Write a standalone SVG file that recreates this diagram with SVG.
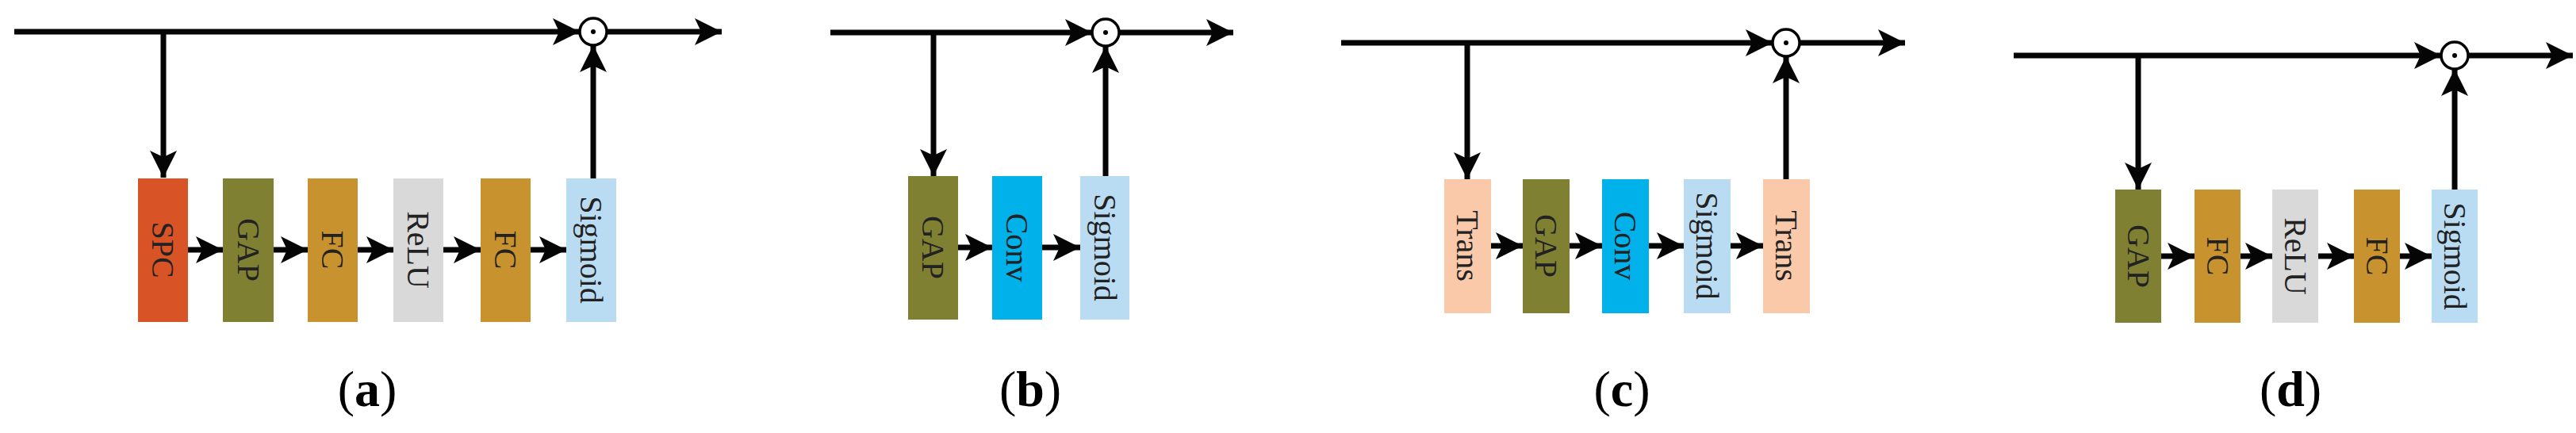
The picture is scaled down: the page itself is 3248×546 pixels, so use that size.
<svg xmlns="http://www.w3.org/2000/svg" width="3248" height="546" viewBox="0 0 3248 546">
<style>
.ln{stroke:#050505;stroke-width:7;fill:none;marker-end:url(#ah)}
.t{font-family:"Liberation Serif",serif;font-size:40px;fill:#222;text-anchor:middle;dominant-baseline:central}
.cap{font-family:"Liberation Serif",serif;font-size:64px;fill:#000;text-anchor:middle}
.od{fill:#fff;stroke:#000;stroke-width:3.5}
</style>
<defs>
<marker id="ah" markerUnits="userSpaceOnUse" markerWidth="40" markerHeight="40" viewBox="0 -20 36 40" refX="34" refY="0" orient="auto">
<path d="M0,-17 L34,0 L0,17 L8,0 z" fill="#050505"/>
</marker>
</defs>
<rect width="3248" height="546" fill="#fff"/>
<g id="connectors">
<!-- a -->
<path class="ln" d="M18,40 H731"/><path class="ln" d="M765,40 H910"/>
<path class="ln" d="M206,40 V224"/><path class="ln" d="M748,225 V57"/>
<path class="ln" d="M237,315 H281"/><path class="ln" d="M345,315 H388"/><path class="ln" d="M451,315 H496"/><path class="ln" d="M559,315 H606"/><path class="ln" d="M669,315 H714"/>
<!-- b -->
<path class="ln" d="M1047,41 H1377"/><path class="ln" d="M1411,41 H1555"/>
<path class="ln" d="M1177,41 V222"/><path class="ln" d="M1394,222 V58"/>
<path class="ln" d="M1208,312 H1251"/><path class="ln" d="M1314,312 H1362"/>
<!-- c -->
<path class="ln" d="M1691,54 H2235"/><path class="ln" d="M2269,54 H2402"/>
<path class="ln" d="M1850,54 V226"/><path class="ln" d="M2252,226 V71"/>
<path class="ln" d="M1880,310 H1920"/><path class="ln" d="M1979,310 H2020"/><path class="ln" d="M2079,310 H2123"/><path class="ln" d="M2182,310 H2223"/>
<!-- d -->
<path class="ln" d="M2539,70 H3078"/><path class="ln" d="M3112,70 H3244"/>
<path class="ln" d="M2696,70 V239"/><path class="ln" d="M3095,239 V87"/>
<path class="ln" d="M2725,323 H2767"/><path class="ln" d="M2825,323 H2865"/><path class="ln" d="M2923,323 H2968"/><path class="ln" d="M3026,323 H3066"/>
</g>
<g id="ops">
<circle class="od" cx="748" cy="40" r="17"/><circle cx="748" cy="40" r="3"/>
<circle class="od" cx="1394" cy="41" r="17"/><circle cx="1394" cy="41" r="3"/>
<circle class="od" cx="2252" cy="54" r="17"/><circle cx="2252" cy="54" r="3"/>
<circle class="od" cx="3095" cy="70" r="17"/><circle cx="3095" cy="70" r="3"/>
</g>
<g id="a-spc"><rect x="174" y="225" width="63" height="181" fill="#D85427"/><text class="t" transform="translate(205.5,315) rotate(90)">SPC</text></g>
<g id="a-gap"><rect x="281" y="225" width="64" height="181" fill="#808033"/><text class="t" transform="translate(313,315) rotate(90)">GAP</text></g>
<g id="a-fc1"><rect x="388" y="225" width="63" height="181" fill="#C8922E"/><text class="t" transform="translate(419.5,315) rotate(90)">FC</text></g>
<g id="a-relu"><rect x="496" y="225" width="63" height="181" fill="#D9D9D9"/><text class="t" transform="translate(527.5,315) rotate(90)">ReLU</text></g>
<g id="a-fc2"><rect x="606" y="225" width="63" height="181" fill="#C8922E"/><text class="t" transform="translate(637.5,315) rotate(90)">FC</text></g>
<g id="a-sig"><rect x="714" y="225" width="63" height="181" fill="#BADCF3"/><text class="t" transform="translate(745.5,315) rotate(90)">Sigmoid</text></g>
<g id="b-gap"><rect x="1145" y="222" width="63" height="181" fill="#808033"/><text class="t" transform="translate(1176.5,312) rotate(90)">GAP</text></g>
<g id="b-conv"><rect x="1251" y="222" width="63" height="181" fill="#00B1EA"/><text class="t" transform="translate(1282.5,312) rotate(90)">Conv</text></g>
<g id="b-sig"><rect x="1362" y="222" width="62" height="181" fill="#BADCF3"/><text class="t" transform="translate(1393,312) rotate(90)">Sigmoid</text></g>
<g id="c-trans1"><rect x="1821" y="226" width="59" height="169" fill="#FAC9AA"/><text class="t" transform="translate(1850.5,310) rotate(90)">Trans</text></g>
<g id="c-gap"><rect x="1920" y="226" width="59" height="169" fill="#808033"/><text class="t" transform="translate(1949.5,310) rotate(90)">GAP</text></g>
<g id="c-conv"><rect x="2020" y="226" width="59" height="169" fill="#00B1EA"/><text class="t" transform="translate(2049.5,310) rotate(90)">Conv</text></g>
<g id="c-sig"><rect x="2123" y="226" width="59" height="169" fill="#BADCF3"/><text class="t" transform="translate(2152.5,310) rotate(90)">Sigmoid</text></g>
<g id="c-trans2"><rect x="2223" y="226" width="59" height="169" fill="#FAC9AA"/><text class="t" transform="translate(2252.5,310) rotate(90)">Trans</text></g>
<g id="d-gap"><rect x="2667" y="239" width="58" height="168" fill="#808033"/><text class="t" transform="translate(2696,323) rotate(90)">GAP</text></g>
<g id="d-fc1"><rect x="2767" y="239" width="58" height="168" fill="#C8922E"/><text class="t" transform="translate(2796,323) rotate(90)">FC</text></g>
<g id="d-relu"><rect x="2865" y="239" width="58" height="168" fill="#D9D9D9"/><text class="t" transform="translate(2894,323) rotate(90)">ReLU</text></g>
<g id="d-fc2"><rect x="2968" y="239" width="58" height="168" fill="#C8922E"/><text class="t" transform="translate(2997,323) rotate(90)">FC</text></g>
<g id="d-sig"><rect x="3066" y="239" width="58" height="168" fill="#BADCF3"/><text class="t" transform="translate(3095,323) rotate(90)">Sigmoid</text></g>
<g id="captions">
<text class="cap" x="463" y="512">(<tspan font-weight="bold">a</tspan>)</text>
<text class="cap" x="1299" y="512">(<tspan font-weight="bold">b</tspan>)</text>
<text class="cap" x="2045" y="512">(<tspan font-weight="bold">c</tspan>)</text>
<text class="cap" x="2888" y="512">(<tspan font-weight="bold">d</tspan>)</text>
</g>
</svg>
